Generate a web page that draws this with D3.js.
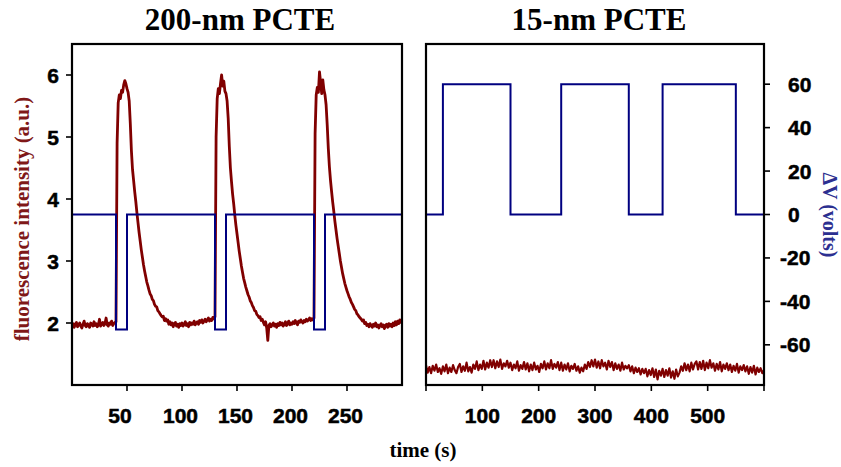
<!DOCTYPE html>
<html>
<head>
<meta charset="utf-8">
<script src="https://cdn.jsdelivr.net/npm/d3@7"></script>
<style>
  body { margin: 0; background: #fff; }
  svg { display: block; }
  .tick-label { font-family: "Liberation Sans", Arial, sans-serif; font-weight: bold; font-size: 21px; fill: #000; stroke: #000; stroke-width: 0.5px; }
  .title { font-family: "Liberation Serif", "Times New Roman", serif; font-weight: bold; font-size: 31px; fill: #000; }
  .axis-title { font-family: "Liberation Serif", "Times New Roman", serif; font-weight: bold; }
</style>
</head>
<body>
<div id="js_chart"></div>
<script>
// ---- data ----
// left panel (200-nm PCTE), fluorescence every 1 s from 0 to 300 s
let leftStart = 0, leftStep = 1;
let leftFluor = [
  1.96,1.99,1.93,1.98,2.01,1.94,1.97,2.00,1.95,1.92,
  1.98,2.03,1.96,1.94,1.99,1.97,1.93,2.00,1.98,1.95,
  2.02,1.96,1.99,1.94,1.97,2.06,1.95,1.98,2.01,1.96,
  1.99,2.08,1.97,1.95,2.00,1.98,2.03,1.96,1.99,2.01,
  2.02,4.90,5.55,5.68,5.62,5.75,5.72,5.84,5.91,5.86,
  5.78,5.72,5.58,5.22,4.78,4.48,4.30,4.12,3.96,3.78,
  3.62,3.46,3.32,3.18,3.06,2.94,2.84,2.75,2.66,2.60,
  2.53,2.47,2.44,2.38,2.36,2.30,2.27,2.26,2.20,2.18,
  2.15,2.12,2.10,2.11,2.04,2.07,2.03,2.05,1.98,2.02,
  1.97,2.00,1.94,1.99,2.01,1.95,1.98,1.93,1.99,1.96,
  2.00,1.95,1.98,2.02,1.96,1.99,1.94,2.01,1.97,2.00,
  1.98,2.03,1.97,2.00,2.02,1.98,2.04,2.01,2.05,2.00,
  2.03,2.06,2.02,2.05,2.08,2.03,2.06,2.04,2.09,2.07,
  2.10,5.00,5.62,5.78,5.70,5.86,6.00,5.82,5.90,5.74,
  5.70,5.58,5.30,4.85,4.50,4.28,4.08,3.92,3.74,3.58,
  3.44,3.30,3.16,3.04,2.92,2.82,2.72,2.65,2.58,2.52,
  2.46,2.42,2.36,2.33,2.28,2.25,2.20,2.19,2.14,2.12,
  2.09,2.10,2.04,2.06,2.01,1.97,2.02,1.92,1.72,1.96,
  1.99,1.94,1.97,2.00,1.95,1.98,1.93,1.99,1.96,2.01,
  1.97,2.00,1.95,1.98,2.02,1.96,1.99,2.03,1.97,2.00,
  1.98,2.02,1.99,2.04,2.00,1.97,2.03,2.01,2.05,2.02,
  2.00,2.04,2.02,2.06,2.03,2.05,2.08,2.04,2.07,2.05,
  2.08,5.05,5.68,5.80,5.72,6.05,5.88,5.70,5.92,5.76,
  5.68,5.52,5.20,4.82,4.52,4.30,4.12,3.95,3.80,3.64,
  3.50,3.36,3.24,3.12,3.00,2.90,2.80,2.72,2.64,2.58,
  2.52,2.47,2.42,2.38,2.33,2.30,2.26,2.22,2.20,2.15,
  2.13,2.10,2.08,2.06,2.03,2.05,1.99,2.01,1.96,1.98,
  1.94,1.99,1.96,1.93,1.98,1.95,2.00,1.94,1.97,1.92,
  1.96,1.99,1.94,1.97,1.91,1.96,1.98,1.93,1.99,1.95,
  1.98,1.94,2.00,1.96,2.02,1.97,2.03,1.99,2.05,2.01,2.03
];
// voltage steps (value holds from time until next time)
let leftVTimes = [0, 40, 50, 130, 140, 220, 230, 300];
let leftVolts  = [0, -53, 0, -53, 0, -53, 0, 0];

// right panel (15-nm PCTE), fluorescence every 3 s from 0 to 600 s
let rightStart = 0, rightStep = 3;
let rightFluor = [
  1.32,1.20,1.29,1.19,1.31,1.23,1.33,1.21,1.27,1.18,
  1.30,1.22,1.33,1.19,1.28,1.21,1.32,1.24,1.19,1.29,
  1.34,1.21,1.30,1.23,1.36,1.22,1.29,1.20,1.33,1.26,
  1.38,1.24,1.33,1.26,1.39,1.25,1.36,1.28,1.40,1.29,
  1.40,1.27,1.38,1.29,1.41,1.26,1.35,1.30,1.39,1.28,
  1.36,1.24,1.33,1.27,1.38,1.23,1.32,1.26,1.37,1.25,
  1.35,1.22,1.33,1.24,1.36,1.25,1.31,1.21,1.34,1.27,
  1.38,1.25,1.35,1.27,1.40,1.26,1.34,1.28,1.37,1.24,
  1.36,1.23,1.33,1.25,1.35,1.22,1.31,1.26,1.34,1.23,
  1.30,1.20,1.28,1.22,1.33,1.26,1.37,1.29,1.40,1.30,
  1.41,1.28,1.38,1.27,1.40,1.30,1.36,1.25,1.39,1.29,
  1.37,1.24,1.35,1.26,1.33,1.23,1.36,1.25,1.31,1.27,
  1.32,1.22,1.30,1.19,1.28,1.21,1.27,1.17,1.26,1.19,
  1.26,1.14,1.24,1.16,1.27,1.13,1.25,1.09,1.23,1.15,
  1.26,1.13,1.24,1.15,1.27,1.12,1.22,1.10,1.25,1.14,
  1.20,1.30,1.23,1.35,1.24,1.33,1.22,1.36,1.25,1.34,
  1.38,1.25,1.37,1.26,1.39,1.24,1.36,1.27,1.40,1.28,
  1.35,1.23,1.34,1.25,1.37,1.22,1.33,1.26,1.35,1.24,
  1.33,1.21,1.31,1.23,1.34,1.20,1.30,1.24,1.32,1.22,
  1.30,1.18,1.29,1.20,1.31,1.17,1.28,1.21,1.27,1.19,
  1.24
];
let rightVTimes = [0, 30, 150, 240, 360, 420, 550, 600];
let rightVolts  = [0, 60, 0, 60, 0, 60, 0, 0];

// ticks
let leftXTicks = [50, 100, 150, 200, 250];
let rightXTicks = [0, 100, 200, 300, 400, 500, 600];
let rightXLabels = [100, 200, 300, 400, 500];
let fluorTicks = [2, 3, 4, 5, 6];
let voltTicks = [60, 40, 20, 0, -20, -40, -60];

let titles = ["200-nm PCTE", "15-nm PCTE"];

// ---- drawing ----
const W = 841, H = 467;
const plotTop = 44, plotBottom = 385;
const fluorColor = "#800000", voltColor = "#000080";

let svg = d3.select("#js_chart").append("svg")
    .attr("width", W).attr("height", H);

let yF = d3.scaleLinear().domain([1, 6.5]).range([plotBottom, plotTop]);
let yV = d3.scaleLinear().domain([-78.5, 78.5]).range([plotBottom, plotTop]);

function toPoints(vals, start, step) {
    return vals.map(function (v, i) { return {t: start + i * step, v: v}; });
}
function toSteps(times, vals) {
    return times.map(function (t, i) { return {t: t, v: vals[i]}; });
}

function drawPanel(left, right, xMax, fluor, volts, fWidth) {
    let x = d3.scaleLinear().domain([0, xMax]).range([left, right]);
    let g = svg.append("g");

    let fLine = d3.line().x(function (d) { return x(d.t); }).y(function (d) { return yF(d.v); });
    g.append("path").datum(fluor)
        .attr("d", fLine)
        .attr("fill", "none").attr("stroke", fluorColor)
        .attr("stroke-width", fWidth).attr("stroke-linejoin", "round");

    let vLine = d3.line().curve(d3.curveStepAfter)
        .x(function (d) { return x(d.t); }).y(function (d) { return yV(d.v); });
    g.append("path").datum(volts)
        .attr("d", vLine)
        .attr("fill", "none").attr("stroke", voltColor)
        .attr("stroke-width", 2);

    // frame
    g.append("rect")
        .attr("x", left).attr("y", plotTop)
        .attr("width", right - left).attr("height", plotBottom - plotTop)
        .attr("fill", "none").attr("stroke", "#000").attr("stroke-width", 2.2);
    return x;
}

// left panel
let xL = drawPanel(72, 402, 300, toPoints(leftFluor, leftStart, leftStep), toSteps(leftVTimes, leftVolts), 2.8);
// right panel
let xR = drawPanel(426, 764, 600, toPoints(rightFluor, rightStart, rightStep), toSteps(rightVTimes, rightVolts), 2.2);

// left x ticks
svg.append("g").selectAll("line").data(leftXTicks).enter().append("line")
    .attr("x1", function (d) { return xL(d); }).attr("x2", function (d) { return xL(d); })
    .attr("y1", plotBottom).attr("y2", plotBottom + 6)
    .attr("stroke", "#000").attr("stroke-width", 1.6);
svg.append("g").selectAll("text").data(leftXTicks).enter().append("text")
    .attr("class", "tick-label")
    .attr("x", function (d) { return xL(d) - (String(d).length < 3 ? 7 : 1.5); })
    .attr("y", 423).attr("text-anchor", "middle")
    .text(function (d) { return d; });

// right x ticks
svg.append("g").selectAll("line").data(rightXTicks).enter().append("line")
    .attr("x1", function (d) { return xR(d); }).attr("x2", function (d) { return xR(d); })
    .attr("y1", plotBottom).attr("y2", plotBottom + 6)
    .attr("stroke", "#000").attr("stroke-width", 1.6);
svg.append("g").selectAll("text").data(rightXLabels).enter().append("text")
    .attr("class", "tick-label")
    .attr("x", function (d) { return xR(d); })
    .attr("y", 423).attr("text-anchor", "middle")
    .text(function (d) { return d; });

// left y ticks (fluorescence)
svg.append("g").selectAll("line").data(fluorTicks).enter().append("line")
    .attr("x1", 66).attr("x2", 72)
    .attr("y1", function (d) { return yF(d); }).attr("y2", function (d) { return yF(d); })
    .attr("stroke", "#000").attr("stroke-width", 1.6);
svg.append("g").selectAll("text").data(fluorTicks).enter().append("text")
    .attr("class", "tick-label")
    .attr("x", 59).attr("y", function (d) { return yF(d) + 7.5; })
    .attr("text-anchor", "end")
    .text(function (d) { return d; });

// right y ticks (voltage)
svg.append("g").selectAll("line").data(voltTicks).enter().append("line")
    .attr("x1", 764).attr("x2", 770)
    .attr("y1", function (d) { return yV(d); }).attr("y2", function (d) { return yV(d); })
    .attr("stroke", "#000").attr("stroke-width", 1.6);
svg.append("g").selectAll("text").data(voltTicks).enter().append("text")
    .attr("class", "tick-label")
    .attr("x", function (d) { return d < 0 ? 780 : 788; })
    .attr("y", function (d) { return yV(d) + 7.5; })
    .attr("text-anchor", "start")
    .text(function (d) { return d; });

// titles
svg.append("text").attr("class", "title")
    .attr("x", 240).attr("y", 30).attr("text-anchor", "middle").text(titles[0]);
svg.append("text").attr("class", "title")
    .attr("x", 599).attr("y", 30).attr("text-anchor", "middle").text(titles[1]);

// axis titles
svg.append("text").attr("class", "axis-title")
    .attr("transform", "translate(29,219) rotate(-90)")
    .attr("text-anchor", "middle")
    .style("font-size", "21px").style("fill", "#7f1818")
    .text("fluorescence intensity (a.u.)");

svg.append("text").attr("class", "axis-title")
    .attr("transform", "translate(823,215) rotate(90)")
    .attr("text-anchor", "middle")
    .style("font-size", "20px").style("fill", "#2c2f90")
    .text("ΔV (volts)");

svg.append("text").attr("class", "axis-title")
    .attr("x", 423).attr("y", 457)
    .attr("text-anchor", "middle")
    .style("font-size", "21px").style("fill", "#000")
    .text("time (s)");
</script>
</body>
</html>
